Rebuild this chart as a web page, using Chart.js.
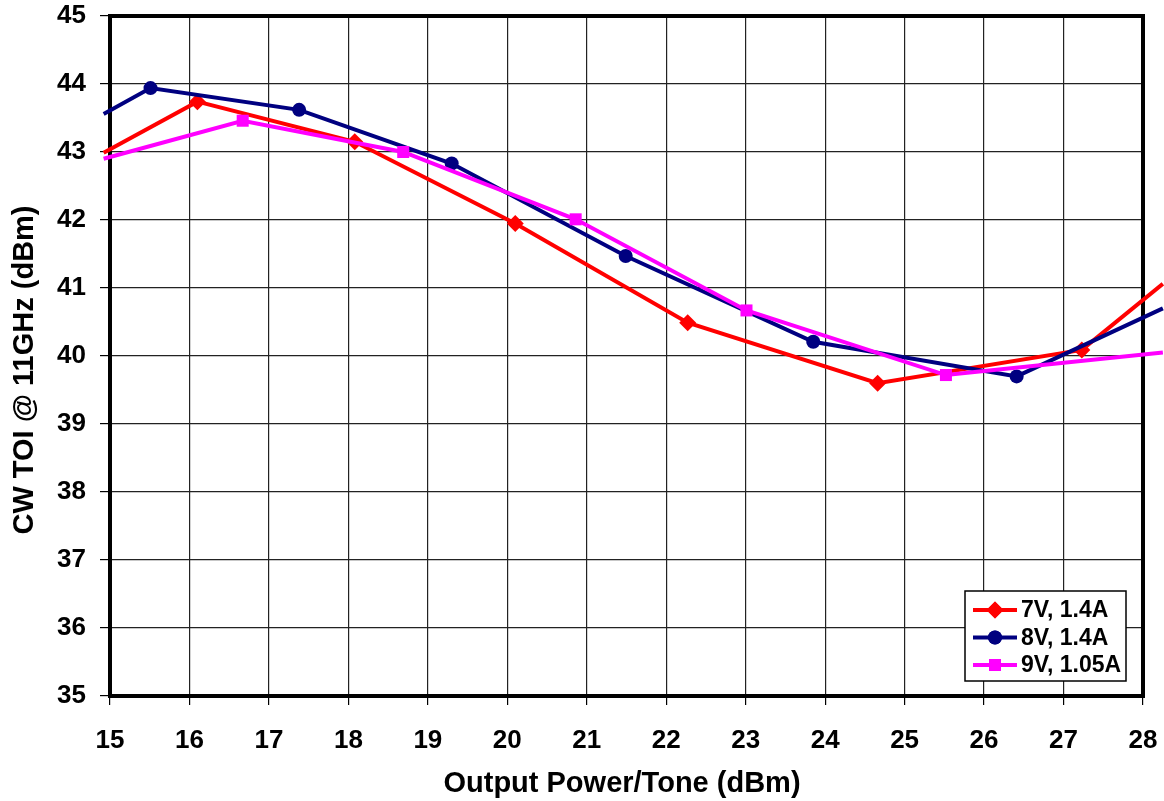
<!DOCTYPE html>
<html>
<head>
<meta charset="utf-8">
<script src="https://cdn.jsdelivr.net/npm/chart.js@4/dist/chart.umd.min.js"></script>
<style>
html,body{margin:0;padding:0;background:#fff;}
canvas{display:block;}
</style>
</head>
<body>
<canvas id="c" width="1164" height="801"></canvas>
<script>
// Series data (x = Output Power/Tone in dBm, y = CW TOI in dBm)
const series7V_x = [14.92, 16.10, 18.08, 20.10, 22.27, 24.66, 27.23, 28.25];
const series7V_y = [42.99, 43.74, 43.15, 41.95, 40.49, 39.60, 40.09, 41.06];
const series8V_x = [14.92, 15.51, 17.38, 19.30, 21.49, 23.85, 26.41, 28.25];
const series8V_y = [43.56, 43.94, 43.62, 42.83, 41.47, 40.21, 39.70, 40.70];
const series9V_x = [14.92, 16.67, 18.69, 20.86, 23.01, 25.52, 28.25];
const series9V_y = [42.90, 43.46, 43.00, 42.01, 40.67, 39.72, 40.05];
const seriesLabels = ['7V, 1.4A', '8V, 1.4A', '9V, 1.05A'];
const xTicks = [15,16,17,18,19,20,21,22,23,24,25,26,27,28];
const yTicks = [35,36,37,38,39,40,41,42,43,44,45];
const xTitle = 'Output Power/Tone (dBm)';
const yTitle = 'CW TOI @ 11GHz (dBm)';

const FONT = "'Liberation Sans', Arial, Helvetica, sans-serif";

function pts(xs, ys){ return xs.map((x,i)=>({x:x, y:ys[i]})); }
// first and last points are the line continuing beyond the frame: no marker there
function radii(xs, r){ return xs.map((x,i)=> (i===0 || i===xs.length-1) ? 0 : r); }

const datasets = [
  {label: seriesLabels[0], data: pts(series7V_x, series7V_y), borderColor:'#FF0000', backgroundColor:'#FF0000',
   pointStyle:'rectRot', pointRadius: radii(series7V_x, 8.5), order:2},
  {label: seriesLabels[1], data: pts(series8V_x, series8V_y), borderColor:'#000080', backgroundColor:'#000080',
   pointStyle:'circle', pointRadius: radii(series8V_x, 7), order:1},
  {label: seriesLabels[2], data: pts(series9V_x, series9V_y), borderColor:'#FF00FF', backgroundColor:'#FF00FF',
   pointStyle:'rect', pointRadius: radii(series9V_x, 8.5), order:0}
].map(d => Object.assign({borderWidth:4, pointBorderWidth:0, tension:0, clip:false, fill:false, pointHoverRadius:0}, d));

const framePlugin = {
  id:'frame',
  beforeDatasetsDraw(chart){
    const a = chart.chartArea, ctx = chart.ctx;
    ctx.save();
    ctx.strokeStyle = '#000';
    ctx.lineWidth = 4;
    ctx.strokeRect(a.left, a.top, a.right - a.left, a.bottom - a.top);
    ctx.restore();
  },
  afterDraw(chart){
    // axis titles, drawn as text
    const ctx = chart.ctx;
    ctx.save();
    ctx.fillStyle = '#000';
    ctx.font = "bold 29px " + FONT;
    ctx.textAlign = 'center';
    ctx.textBaseline = 'middle';
    ctx.fillText(xTitle, 622, 784);
    ctx.translate(25, 370);
    ctx.rotate(-Math.PI/2);
    ctx.fillText(yTitle, 0, 0);
    ctx.restore();
  }
};

const legendPlugin = {
  id:'customLegend',
  afterDatasetsDraw(chart){
    const ctx = chart.ctx;
    const bx = 965, by = 591, bw = 161, bh = 90;
    ctx.save();
    ctx.fillStyle = '#fff';
    ctx.fillRect(bx, by, bw, bh);
    ctx.strokeStyle = '#000';
    ctx.lineWidth = 1.5;
    ctx.strokeRect(bx, by, bw, bh);
    const rows = [610, 637.5, 665];
    chart.data.datasets.forEach((ds, i) => {
      const y = rows[i];
      ctx.strokeStyle = ds.borderColor;
      ctx.lineWidth = 4;
      ctx.beginPath(); ctx.moveTo(973, y); ctx.lineTo(1017, y); ctx.stroke();
      ctx.fillStyle = ds.backgroundColor;
      const r = Math.max.apply(null, ds.pointRadius);
      Chart.helpers.drawPoint(ctx, {pointStyle: ds.pointStyle, radius: r, borderWidth: 0, rotation: 0}, 995, y);
      ctx.fill();
      ctx.fillStyle = '#000';
      ctx.font = "bold 23px " + FONT;
      ctx.textBaseline = 'middle';
      ctx.textAlign = 'left';
      ctx.fillText(ds.label, 1021, y + 1);
    });
    ctx.restore();
  }
};

new Chart(document.getElementById('c'), {
  type:'line',
  data:{datasets: datasets},
  options:{
    responsive:false,
    animation:false,
    devicePixelRatio:1,
    layout:{padding:{top:16, right:21, bottom:0, left:0}},
    plugins:{legend:{display:false}, tooltip:{enabled:false}},
    events:[],
    scales:{
      x:{
        type:'linear', min:15, max:28,
        afterBuildTicks(s){ s.ticks = xTicks.map(v=>({value:v})); },
        afterFit(s){ s.height = 105; s.paddingLeft = 0; s.paddingRight = 0; },
        grid:{color:'#222', lineWidth:1.2, tickLength:9, tickColor:'#000', drawTicks:true},
        border:{display:true, color:'#000', width:4},
        ticks:{color:'#000', font:{family:FONT, size:26, weight:'bold'}, padding:20, maxRotation:0, autoSkip:false},
        title:{display:false}
      },
      y:{
        type:'linear', min:35, max:45,
        afterBuildTicks(s){ s.ticks = yTicks.map(v=>({value:v})); },
        afterFit(s){ s.width = 110; s.paddingTop = 0; s.paddingBottom = 0; },
        grid:{color:'#222', lineWidth:1.2, tickLength:10, tickColor:'#000', drawTicks:true},
        border:{display:true, color:'#000', width:4},
        ticks:{color:'#000', font:{family:FONT, size:26, weight:'bold'}, padding:14, autoSkip:false},
        title:{display:false}
      }
    }
  },
  plugins:[framePlugin, legendPlugin]
});
</script>
</body>
</html>
